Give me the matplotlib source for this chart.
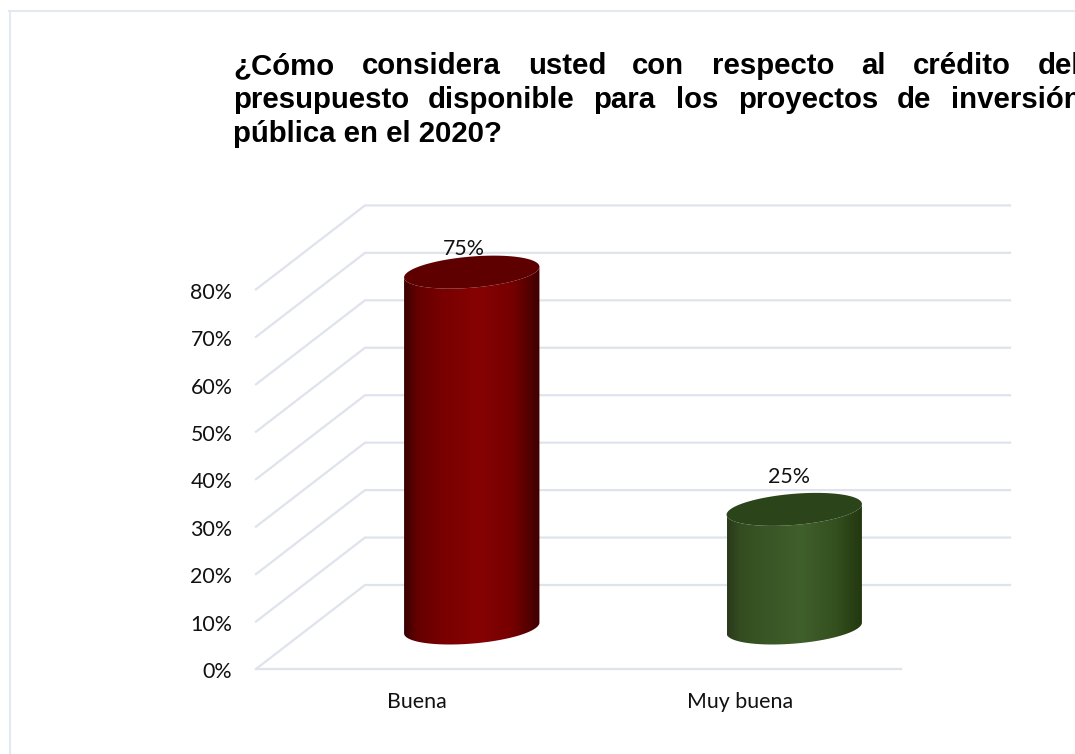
import numpy as np
import matplotlib
matplotlib.use('Agg')
import matplotlib.pyplot as plt
from matplotlib.colors import LinearSegmentedColormap
from matplotlib.patches import Polygon
from matplotlib.transforms import ScaledTranslation

W, H = 1075, 754

categories = ['Buena', 'Muy buena']
values = [75, 25]
ticks = [0, 10, 20, 30, 40, 50, 60, 70, 80]
tick_labels = ['0%', '10%', '20%', '30%', '40%', '50%', '60%', '70%', '80%']
label_offsets = [(-8, 23), (-5, 32)]
shade_stops = [0, 0.1, 0.28, 0.55, 0.8, 1]
bar_colors = [
    ['#3a0000', '#650000', '#780000', '#870303', '#750000', '#3e0000'],
    ['#2a3a1c', '#344d20', '#395626', '#3f5f2b', '#34501f', '#22360f'],
]
top_colors = ['#5f0000', '#2c4419']
title_lines = [
    (74, [('¿Cómo', 233), ('considera', 362), ('usted', 528), ('con', 632),
          ('respecto', 712), ('al', 861), ('crédito', 913), ('del', 1038)]),
    (108, [('presupuesto', 233), ('disponible', 428), ('para', 593), ('los', 676),
           ('proyectos', 738), ('de', 897), ('inversión', 951)]),
    (142, [('pública en el 2020?', 233)]),
]

GRID = '#dfe3ec'
PX_X = 322.5  # pixels per category
PX_Y = 4.745  # pixels per percent
# shift of the back wall, in data units
DEPTH_X = 109 / PX_X
DEPTH_Y = 84 / PX_Y
BASE_Y = 41 / PX_Y
BAR_A = 64 / PX_X
BAR_DX = 22 / PX_X
BAR_DY = 16.5 / PX_Y
TEXT = '#111111'


def ellipse(cx, cy, t):
    return (cx + BAR_A * np.cos(t) + BAR_DX * np.sin(t), cy + BAR_DY * np.sin(t))


def draw_cylinder(ax, pos, value, colors, top_color):
    cx = pos + DEPTH_X / 2
    t = np.linspace(0, 2 * np.pi, 240)
    half_w = np.hypot(BAR_A, BAR_DX)
    t0 = np.arctan2(BAR_DX, BAR_A)
    # lower edge of base, then upper edge back along the top
    low = np.linspace(t0, t0 - np.pi, 120)
    up = np.linspace(t0 - np.pi, t0, 120)
    xl, yl = ellipse(cx, BASE_Y, low)
    xu, yu = ellipse(cx, BASE_Y + value, up)
    body = Polygon(np.column_stack([np.r_[xl, xu], np.r_[yl, yu]]),
                   closed=True, facecolor='none', edgecolor='none',
                   transform=ax.transData)
    ax.add_patch(body)
    cmap = LinearSegmentedColormap.from_list('shade', list(zip(shade_stops, colors)))
    grad = np.linspace(0, 1, 256).reshape(1, -1)
    im = ax.imshow(grad, cmap=cmap, aspect='auto', zorder=3,
                   extent=[cx - half_w, cx + half_w, 0, BASE_Y + value + 5])
    im.set_clip_path(body)
    xt, yt = ellipse(cx, BASE_Y + value, t)
    ax.fill(xt, yt, color=top_color, zorder=4, lw=0, clip_on=False)


fig = plt.figure(figsize=(W / 100, H / 100), dpi=100)

# outer frame, open on the right and bottom
fig.add_artist(plt.Line2D([9.5 / W, 9.5 / W], [0, 1 - 11 / H], color='#e4e8f0', lw=1.5))
fig.add_artist(plt.Line2D([9 / W, 1], [1 - 11 / H, 1 - 11 / H], color='#e4e8f0', lw=1.5))

# y limit runs past 80 so the tall bar is not cut by the axes box
ax = fig.add_axes([256 / W, 1 - 669 / H, 645 / W, 100 * PX_Y / H])
ax.patch.set_visible(False)

for v in ticks:
    ax.plot([-0.5, -0.5 + DEPTH_X, 1.5 + DEPTH_X], [v, v + DEPTH_Y, v + DEPTH_Y],
            color=GRID, lw=1.6, zorder=1, clip_on=False)
ax.plot([-0.5, 1.5], [0, 0], color=GRID, lw=1.6, zorder=1, clip_on=False)

for i, v in enumerate(values):
    draw_cylinder(ax, i, v, bar_colors[i], top_colors[i])
    ax.annotate(f'{v}%', (i + DEPTH_X / 2, BASE_Y + v),
                xytext=(label_offsets[i][0] * 0.72, label_offsets[i][1] * 0.72),
                textcoords='offset points', ha='center', va='center',
                fontsize=15.4, family='Lato', color=TEXT, zorder=2,
                annotation_clip=False)

ax.set_xlim(-0.5, 1.5)
ax.set_ylim(0, 100)
ax.set_xticks(range(len(categories)))
ax.set_xticklabels(categories, fontsize=15.4, family='Lato', color=TEXT)
ax.set_yticks(ticks)
ax.set_yticklabels(tick_labels, fontsize=15.4, family='Lato', color=TEXT)
ax.tick_params(length=0)
ax.tick_params(axis='x', pad=16.5)
ax.tick_params(axis='y', pad=17)
nudge = ScaledTranslation(0, -1.2 / 100, fig.dpi_scale_trans)
for lab in ax.get_yticklabels():
    lab.set_transform(lab.get_transform() + nudge)
for s in ax.spines.values():
    s.set_visible(False)

for baseline, words in title_lines:
    for word, x in words:
        fig.text(x / W, 1 - baseline / H, word, fontsize=21.2, fontweight='bold',
                 family='Liberation Sans', color='black', ha='left', va='baseline')

fig.savefig('out.png', dpi=100)
